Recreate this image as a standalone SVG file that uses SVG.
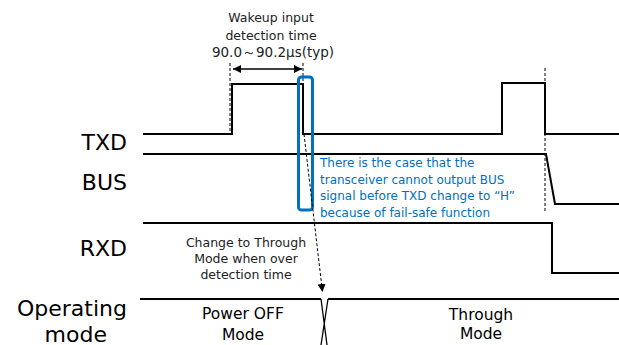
<svg xmlns="http://www.w3.org/2000/svg" width="619" height="345" viewBox="0 0 619 345">
<style>
.w{fill:none;stroke:#000;stroke-width:2}
.d{fill:none;stroke:#000;stroke-width:1;stroke-dasharray:3,2}
.lbl{font-family:"DejaVu Sans",Verdana,sans-serif;font-size:22px;fill:#000;text-anchor:end}
.t{font-family:"DejaVu Sans",Verdana,sans-serif;font-size:12.5px;fill:#222;text-anchor:middle}
.m{font-family:"DejaVu Sans",Verdana,sans-serif;font-size:15.5px;fill:#000;text-anchor:middle}
.b{font-family:"DejaVu Sans",Verdana,sans-serif;font-size:12px;fill:#0070C0}
</style>
<defs>
<marker id="ah" viewBox="0 0 10 10" refX="10" refY="5" markerWidth="8" markerHeight="8" orient="auto-start-reverse" markerUnits="userSpaceOnUse"><path d="M0,0 L10,5 L0,10 z" fill="#000"/></marker>
</defs>
<rect width="619" height="345" fill="#fff"/>
<g id="labels">
<text class="lbl" x="127" y="150">TXD</text>
<text class="lbl" x="127" y="190">BUS</text>
<text class="lbl" x="127" y="256">RXD</text>
<text class="lbl" x="127" y="316">Operating</text>
<text class="lbl" x="107" y="342">mode</text>
</g>
<g id="txd"><path class="w" d="M143,134 H232 V84 H303 V134 H502 V83 H545 V134 H619"/></g>
<g id="bus"><path class="w" d="M143,154 H546 L555,204 H619"/></g>
<g id="rxd"><path class="w" d="M143,223 H552 V273 H619"/></g>
<g id="opmode">
<path class="w" d="M140,299 H321 M328,299 H619"/>
<path fill="none" stroke="#000" stroke-width="1.3" d="M321,299 L327,345 M328,299 L321,345"/>
<text class="m" x="243" y="319">Power OFF</text>
<text class="m" x="243" y="340">Mode</text>
<text class="m" x="481" y="320">Through</text>
<text class="m" x="481" y="339">Mode</text>
</g>
<g id="timing">
<text class="t" x="271" y="22">Wakeup input</text>
<text class="t" x="271" y="40">detection time</text>
<text class="t" x="273" y="57" style="font-size:13.5px">90.0～90.2μs(typ)</text>
<path class="d" d="M230,63 V134 M303,63 V134 M545,68 V213"/>
<line x1="233" y1="69" x2="302" y2="69" stroke="#000" stroke-width="1.3" marker-start="url(#ah)" marker-end="url(#ah)"/>
</g>
<g id="highlight">
<rect x="298.5" y="77" width="14" height="133" rx="3" fill="none" stroke="#0070C0" stroke-width="3"/>
<text class="b" x="320" y="167">There is the case that the</text>
<text class="b" x="320" y="184">transceiver cannot output BUS</text>
<text class="b" x="320" y="200">signal before TXD change to “H”</text>
<text class="b" x="320" y="217">because of fail-safe function</text>
</g>
<g id="connectors">
<line class="d" x1="304" y1="134" x2="322.5" y2="292" marker-end="url(#ah)"/>
</g>
<g id="note">
<text class="t" x="246" y="247">Change to Through</text>
<text class="t" x="246" y="263">Mode when over</text>
<text class="t" x="246" y="279">detection time</text>
</g>
</svg>
